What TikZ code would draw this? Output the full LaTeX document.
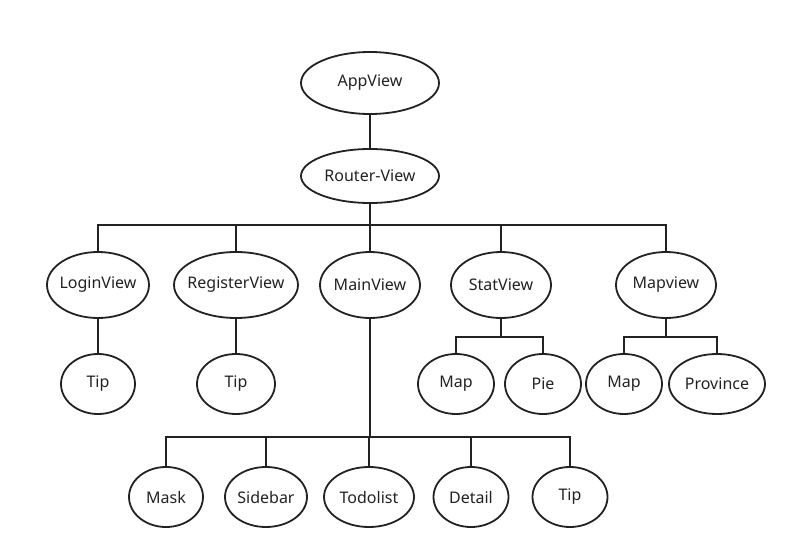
\documentclass[tikz,border=0pt]{standalone}
\usepackage{fontspec}
\setmainfont{Noto Sans}
\usetikzlibrary{shapes.geometric}
\definecolor{linegray}{HTML}{222222}

\tikzset{
  view/.style={ellipse, draw=linegray, line width=1.8pt, inner sep=0pt,
    text=linegray, font=\fontsize{16}{19}\selectfont},
  wire/.style={draw=linegray, line width=1.8pt}
}
% keep the ellipse size fixed, whatever the label width
\newcommand{\vtext}[1]{\makebox[0pt]{#1}}

\begin{document}
\begin{tikzpicture}[x=1pt, y=-1pt]
	\useasboundingbox (0,0) rectangle (798,559);
	% top
	\node[view, minimum width=138pt, minimum height=62pt] (app) at (370,83) {\vtext{AppView}};
	\node[view, minimum width=138pt, minimum height=54pt] (router) at (370,176) {\vtext{Router-View}};
	% second row
	\node[view, minimum width=102pt, minimum height=66pt] (login) at (98,285) {\vtext{LoginView}};
	\node[view, minimum width=124pt, minimum height=66pt] (register) at (236,285) {\vtext{RegisterView}};
	\node[view, minimum width=100pt, minimum height=66pt] (main) at (370,285) {\vtext{MainView}};
	\node[view, minimum width=100pt, minimum height=66pt] (stat) at (501,285) {\vtext{StatView}};
	\node[view, minimum width=100pt, minimum height=66pt] (mapv) at (666,285) {\vtext{Mapview}};
	% third row
	\node[view, minimum width=74pt, minimum height=60pt] (logintip) at (98,384) {\vtext{Tip}};
	\node[view, minimum width=78pt, minimum height=60pt] (regtip) at (236,384) {\vtext{Tip}};
	\node[view, minimum width=76pt, minimum height=60pt] (statmap) at (456,384) {\vtext{Map}};
	\node[view, minimum width=76pt, minimum height=60pt] (pie) at (543,384) {\vtext{Pie}};
	\node[view, minimum width=76pt, minimum height=60pt] (mapmap) at (624,384) {\vtext{Map}};
	\node[view, minimum width=96pt, minimum height=60pt] (province) at (717,384) {\vtext{Province}};
	% bottom row
	\node[view, minimum width=74pt, minimum height=60pt] (mask) at (166,497) {\vtext{Mask}};
	\node[view, minimum width=82pt, minimum height=60pt] (sidebar) at (266,497) {\vtext{Sidebar}};
	\node[view, minimum width=90pt, minimum height=60pt] (todolist) at (369,497) {\vtext{Todolist}};
	\node[view, minimum width=75pt, minimum height=60pt] (detail) at (471,497) {\vtext{Detail}};
	\node[view, minimum width=75pt, minimum height=60pt] (maintip) at (570,497) {\vtext{Tip}};
	% bus levels
	\coordinate (busA) at (370,225);
	\coordinate (busS) at (501,337);
	\coordinate (busM) at (666,337);
	\coordinate (busC) at (370,437);
	% connectors
	\draw[wire] (app) -- (router);
	\draw[wire] (router) -- (busA);
	\draw[wire] (login) |- (busA) -| (mapv);
	\draw[wire] (register) -- (register |- busA);
	\draw[wire] (main) -- (main |- busA);
	\draw[wire] (stat) -- (stat |- busA);
	\draw[wire] (login) -- (logintip);
	\draw[wire] (register) -- (regtip);
	\draw[wire] (stat) -- (busS);
	\draw[wire] (statmap) |- (busS) -| (pie);
	\draw[wire] (mapv) -- (busM);
	\draw[wire] (mapmap) |- (busM) -| (province);
	\draw[wire] (main) -- (busC);
	\draw[wire] (mask) |- (busC) -| (maintip);
	\draw[wire] (sidebar) -- (sidebar |- busC);
	\draw[wire] (todolist) -- (todolist |- busC);
	\draw[wire] (detail) -- (detail |- busC);
\end{tikzpicture}
\end{document}
